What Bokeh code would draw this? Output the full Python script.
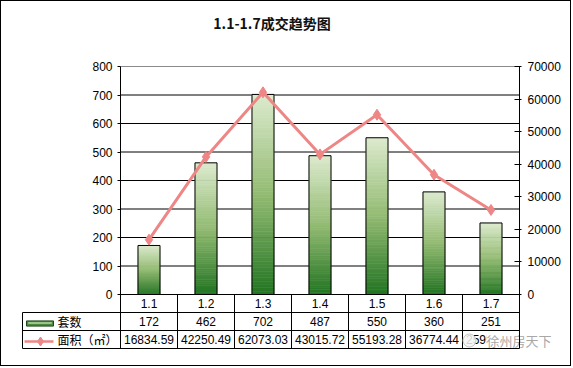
from bokeh.plotting import figure
from bokeh.models import Range1d, LinearAxis, FixedTicker
from bokeh.layouts import column
from bokeh.core.properties import value
from bokeh.embed import file_html
from bokeh.resources import INLINE

# ---------------- data ----------------
categories = ["1.1", "1.2", "1.3", "1.4", "1.5", "1.6", "1.7"]
units = [172, 462, 702, 487, 550, 360, 251]
area = [16834.59, 42250.49, 62073.03, 43015.72, 55193.28, 36774.44, 25959.61]
left_ticks = [0, 100, 200, 300, 400, 500, 600, 700, 800]
right_ticks = [0, 10000, 20000, 30000, 40000, 50000, 60000, 70000]
title_text = "1.1-1.7成交趋势图"
row_names = ["套数", "面积（㎡）"]
watermark = "徐州房天下"

# ---------------- styles / geometry ----------------
NUM_FONT = value("Liberation Sans")
CJK_FONT = value("Noto Sans CJK SC")
LINE_COLOR = "#ee8686"
BAR_W = 0.386
N_SLICES = 60
PXU = 57.0           # px per category
PXY = 0.285          # px per unit (left axis)
RATIO = 70000 / 800  # right / left scale


def lerp_color(t):
    stops = [(0.0, (0xdc, 0xea, 0xce)), (0.5, (0x93, 0xbb, 0x72)), (1.0, (0x22, 0x74, 0x22))]
    for (t0, c0), (t1, c1) in zip(stops[:-1], stops[1:]):
        if t <= t1:
            f = (t - t0) / (t1 - t0)
            return "#%02x%02x%02x" % tuple(int(round(a + (b - a) * f)) for a, b in zip(c0, c1))
    return "#%02x%02x%02x" % stops[-1][1]


def px_to_x(px):   # reference pixel -> x data
    return (px - 120) / PXU


def px_to_y(py):   # reference pixel -> y data
    return (294 - py) / PXY


xc = [i + 0.5 for i in range(len(categories))]
n = len(categories)
y_top = px_to_y(1)
y_bot = px_to_y(349)
row_y = [0, px_to_y(312), px_to_y(330), px_to_y(348)]
x_head = px_to_x(22)

p = figure(width=569, height=364, x_range=Range1d(px_to_x(21), px_to_x(570)),
           y_range=Range1d(y_bot, y_top),
           output_backend="svg", toolbar_location=None, x_axis_location=None,
           min_border_left=20, min_border_right=0, min_border_top=0, min_border_bottom=16,
           background_fill_color="white", border_fill_color="white")
p.outline_line_color = None
p.xgrid.visible = False
p.ygrid.visible = False


def style_axis(ax, tick_in, tick_out, standoff):
    ax.major_tick_in = tick_in
    ax.major_tick_out = tick_out
    ax.minor_tick_line_color = None
    ax.major_label_standoff = standoff
    ax.major_label_text_font = "Liberation Sans"
    ax.major_label_text_font_size = "12px"
    ax.major_label_text_color = "#000000"
    ax.axis_line_color = "black"
    ax.major_tick_line_color = "black"


ya = p.yaxis[0]
ya.fixed_location = 0
ya.ticker = FixedTicker(ticks=left_ticks)
ya.bounds = (row_y[3], left_ticks[-1])
style_axis(ya, 0, 3, 5)

p.extra_y_ranges = {"area": Range1d(y_bot * RATIO, y_top * RATIO)}
yr = LinearAxis(y_range_name="area", ticker=FixedTicker(ticks=right_ticks))
yr.fixed_location = n
yr.bounds = (row_y[3] * RATIO, right_ticks[-1])
style_axis(yr, 5, 2, 6)
p.add_layout(yr, "right")

# title
p.text(x=[px_to_x(271.5)], y=[px_to_y(22)], text=[title_text], text_align="center",
       text_baseline="middle", text_font=CJK_FONT, text_font_size="14px",
       text_font_style="bold", text_color="#111111")

# horizontal grid lines (black) and grey top line
g = left_ticks[:-1]
p.segment(x0=[0] * len(g), y0=g, x1=[n] * len(g), y1=g, line_color="black", line_width=1)
p.segment(x0=[0], y0=[left_ticks[-1]], x1=[n], y1=[left_ticks[-1]], line_color="#8a8a8a", line_width=1)

# gradient bars
L, R, B, T, C = [], [], [], [], []
for x, v in zip(xc, units):
    for k in range(N_SLICES):
        L.append(x - BAR_W / 2)
        R.append(x + BAR_W / 2)
        T.append(v * (1 - k / N_SLICES))
        B.append(v * (1 - (k + 1) / N_SLICES))
        C.append(lerp_color((k + 0.5) / N_SLICES))
p.quad(left=L, right=R, bottom=B, top=T, fill_color=C, line_color=C, line_width=0.6)
p.vbar(x=xc, top=units, width=BAR_W, bottom=0, fill_color=None, line_color="black", line_width=1)

# line on the right axis
p.line(x=xc, y=area, y_range_name="area", line_color=LINE_COLOR, line_width=3)
p.scatter(x=xc, y=area, y_range_name="area", marker="diamond", size=11,
          fill_color=LINE_COLOR, line_color=LINE_COLOR)

# ---------------- data table ----------------
p.segment(x0=list(range(1, n)), y0=[row_y[3]] * (n - 1), x1=list(range(1, n)), y1=[0] * (n - 1),
          line_color="black", line_width=1)
p.segment(x0=[x_head] * 3, y0=row_y[1:], x1=[n] * 3, y1=row_y[1:], line_color="black", line_width=1)
p.segment(x0=[x_head], y0=[row_y[1]], x1=[x_head], y1=[row_y[3]], line_color="black", line_width=1)

mid1 = (row_y[0] + row_y[1]) / 2
mid2 = (row_y[1] + row_y[2]) / 2
mid3 = (row_y[2] + row_y[3]) / 2
p.text(x=xc, y=[mid1] * n, text=categories, text_align="center", text_baseline="middle",
       text_font=NUM_FONT, text_font_size="12px", text_color="#000000")
p.text(x=xc, y=[mid2] * n, text=[str(u) for u in units], text_align="center", text_baseline="middle",
       text_font=NUM_FONT, text_font_size="12px", text_color="#000000")
p.text(x=xc, y=[mid3] * n, text=["%.2f" % a for a in area], text_align="center", text_baseline="middle",
       text_font=NUM_FONT, text_font_size="12px", text_color="#000000")

tx = px_to_x(57)
p.text(x=[tx, tx], y=[mid2, mid3], text=row_names, text_align="left", text_baseline="middle",
       text_font=CJK_FONT, text_font_size="12px", text_color="#000000")

# legend icons
ix0, ix1 = px_to_x(26), px_to_x(53)
iy = px_to_y(323)
p.quad(left=[ix0], right=[ix1], bottom=[iy - 2.6 / PXY], top=[iy + 2.6 / PXY],
       fill_color="#4c8a3e", line_color="#1e4a1e", line_width=1)
p.quad(left=[ix0 + 0.03], right=[ix1 - 0.03], bottom=[iy - 0.5 / PXY], top=[iy + 1.5 / PXY],
       fill_color="#9cc486", line_color=None)
ly = px_to_y(341)
p.segment(x0=[px_to_x(24)], y0=[ly], x1=[ix1], y1=[ly], line_color=LINE_COLOR, line_width=2.5)
p.scatter(x=[px_to_x(40)], y=[ly], marker="diamond", size=9, fill_color=LINE_COLOR, line_color=LINE_COLOR)

# watermark
wy = px_to_y(340)
p.quad(left=[px_to_x(486)], right=[px_to_x(517)], bottom=[px_to_y(347)], top=[px_to_y(331)],
       fill_color="white", line_color=None)
p.scatter(x=[px_to_x(469)], y=[wy], marker="circle", size=13, fill_color="#f4f4f4",
          fill_alpha=0.85, line_color="#c8c8c8")
p.text(x=[px_to_x(486)], y=[wy], text=[watermark], text_align="left", text_baseline="middle",
       text_font=CJK_FONT, text_font_size="13px", text_color="#a8a8a8")

layout = column(p, styles={"border": "1px solid #000000"})
open("out.html", "w").write(file_html(layout, INLINE))
